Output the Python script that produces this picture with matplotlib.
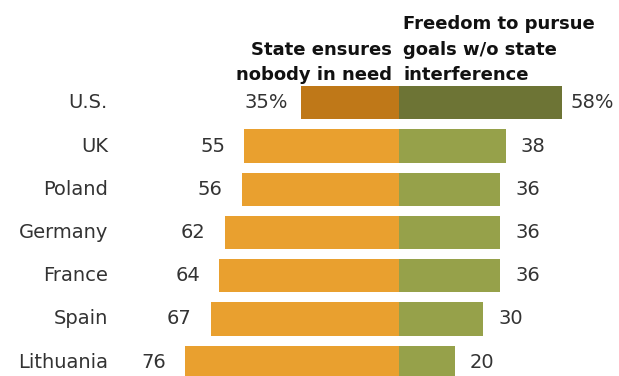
import matplotlib.pyplot as plt

countries = ['U.S.', 'UK', 'Poland', 'Germany', 'France', 'Spain', 'Lithuania']
state_ensures = [35, 55, 56, 62, 64, 67, 76]
freedom = [58, 38, 36, 36, 36, 30, 20]

plt.rcParams['font.family'] = ['DejaVu Sans']

fig = plt.figure(figsize=(6.19, 3.76), dpi=100)
ax = fig.add_axes([0, 0, 1, 1])

y = list(range(len(countries)))
left_colors = ['#BF7818'] + ['#E9A02F'] * (len(countries) - 1)
right_colors = ['#6D7435'] + ['#96A14A'] * (len(countries) - 1)

ax.barh(y, [-v for v in state_ensures], height=0.77, color=left_colors)
ax.barh(y, freedom, height=0.77, color=right_colors)

for i, (c, a, b) in enumerate(zip(countries, state_ensures, freedom)):
    if i == 0:
        la, lb, ga, gb = f'{a}%', f'{b}%', 4.6, 3.2
    else:
        la, lb, ga, gb = str(a), str(b), 6.8, 5.3
    ax.text(-103.6, i, c, ha='right', va='center', fontsize=14, color='#333333')
    ax.text(-a - ga, i, la, ha='right', va='center', fontsize=14, color='#333333')
    ax.text(b + gb, i, lb, ha='left', va='center', fontsize=14, color='#333333')

ax.text(-2.5, -0.43, 'State ensures\nnobody in need', ha='right', va='bottom',
        fontsize=13, fontweight='bold', color='#111111', linespacing=1.55)
ax.text(1.5, -0.43, 'Freedom to pursue\ngoals w/o state\ninterference', ha='left',
        va='bottom', fontsize=13, fontweight='bold', color='#111111', linespacing=1.55)

ax.set_xlim(-142, 78.3)
ax.set_ylim(6.32, -2.38)
ax.axis('off')

fig.savefig('out.png', dpi=100)
plt.close(fig)
